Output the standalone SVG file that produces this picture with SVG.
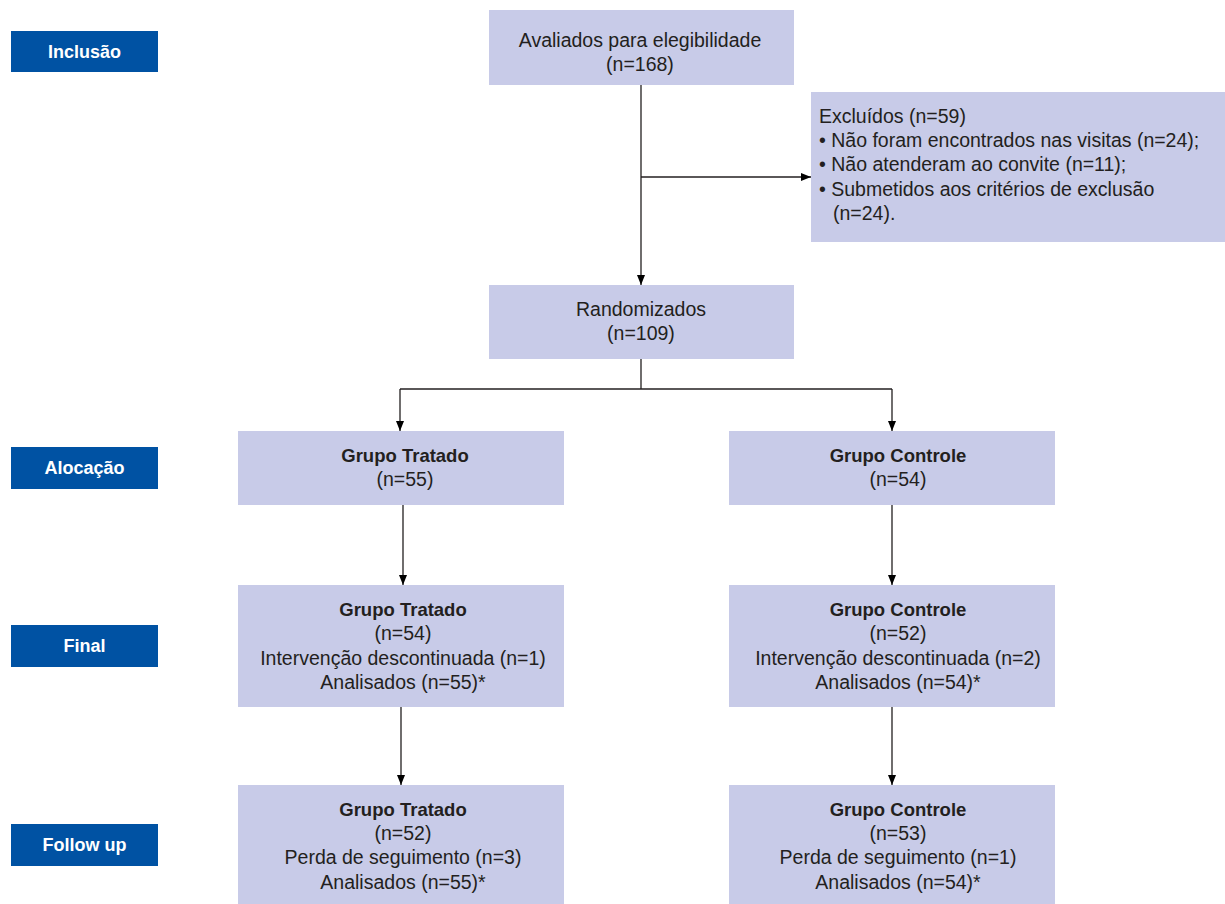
<svg xmlns="http://www.w3.org/2000/svg" width="1225" height="904" viewBox="0 0 1225 904">
<defs>
<style>
.box{fill:#c8cbe8;}
.lab{fill:#0052a3;}
.lt{font-family:"Liberation Sans",Arial,sans-serif;font-size:18px;font-weight:bold;fill:#ffffff;text-anchor:middle;}
.t{font-family:"Liberation Sans",Arial,sans-serif;font-size:19.5px;fill:#231f20;text-anchor:middle;}
.tl{font-family:"Liberation Sans",Arial,sans-serif;font-size:19.5px;fill:#231f20;}
.b{font-weight:bold;font-size:18.5px;}
.ln{stroke:#231f20;stroke-width:1.3;fill:none;}
</style>
<marker id="ah" markerWidth="10" markerHeight="8" refX="10" refY="4" orient="auto" markerUnits="userSpaceOnUse">
<path d="M0,0 L10,4 L0,8 Z" fill="#000"/>
</marker>
</defs>
<rect width="1225" height="904" fill="#ffffff"/>

<g id="label-inclusao"><rect class="lab" x="11" y="31" width="147" height="41"/><text class="lt" x="84.5" y="57.5">Inclusão</text></g>
<g id="label-alocacao"><rect class="lab" x="11" y="447" width="147" height="42"/><text class="lt" x="84.5" y="473.5">Alocação</text></g>
<g id="label-final"><rect class="lab" x="11" y="625" width="147" height="42"/><text class="lt" x="84.5" y="651.5">Final</text></g>
<g id="label-followup"><rect class="lab" x="11" y="824" width="147" height="42"/><text class="lt" x="84.5" y="850.5">Follow up</text></g>

<g id="node-avaliados"><rect class="box" x="489" y="10" width="305" height="75"/>
<text class="t" x="640" y="47">Avaliados para elegibilidade</text>
<text class="t" x="640" y="71">(n=168)</text></g>

<g id="node-excluidos"><rect class="box" x="811" y="92" width="414" height="150"/>
<text class="tl" x="819" y="123">Excluídos (n=59)</text>
<text class="tl" x="819" y="147">• Não foram encontrados nas visitas (n=24);</text>
<text class="tl" x="819" y="171">• Não atenderam ao convite (n=11);</text>
<text class="tl" x="819" y="196">• Submetidos aos critérios de exclusão</text>
<text class="tl" x="833" y="220">(n=24).</text></g>

<g id="node-randomizados"><rect class="box" x="489" y="285" width="305" height="74"/>
<text class="t" x="641" y="316">Randomizados</text>
<text class="t" x="641" y="340">(n=109)</text></g>

<g id="node-tratado-aloc"><rect class="box" x="238" y="431" width="326" height="74"/>
<text class="t b" x="405" y="462">Grupo Tratado</text>
<text class="t" x="405" y="486">(n=55)</text></g>

<g id="node-controle-aloc"><rect class="box" x="729" y="431" width="326" height="74"/>
<text class="t b" x="898" y="462">Grupo Controle</text>
<text class="t" x="898" y="486">(n=54)</text></g>

<g id="node-tratado-final"><rect class="box" x="238" y="585" width="326" height="122"/>
<text class="t b" x="403" y="616">Grupo Tratado</text>
<text class="t" x="403" y="640">(n=54)</text>
<text class="t" x="403" y="665">Intervenção descontinuada (n=1)</text>
<text class="t" x="403" y="689">Analisados (n=55)*</text></g>

<g id="node-controle-final"><rect class="box" x="729" y="585" width="326" height="122"/>
<text class="t b" x="898" y="616">Grupo Controle</text>
<text class="t" x="898" y="640">(n=52)</text>
<text class="t" x="898" y="665">Intervenção descontinuada (n=2)</text>
<text class="t" x="898" y="689">Analisados (n=54)*</text></g>

<g id="node-tratado-follow"><rect class="box" x="238" y="785" width="326" height="119"/>
<text class="t b" x="403" y="816">Grupo Tratado</text>
<text class="t" x="403" y="840">(n=52)</text>
<text class="t" x="403" y="864">Perda de seguimento (n=3)</text>
<text class="t" x="403" y="889">Analisados (n=55)*</text></g>

<g id="node-controle-follow"><rect class="box" x="729" y="785" width="326" height="119"/>
<text class="t b" x="898" y="816">Grupo Controle</text>
<text class="t" x="898" y="840">(n=53)</text>
<text class="t" x="898" y="864">Perda de seguimento (n=1)</text>
<text class="t" x="898" y="889">Analisados (n=54)*</text></g>

<g id="connectors">
<line class="ln" x1="641" y1="85" x2="641" y2="285" marker-end="url(#ah)"/>
<line class="ln" x1="641" y1="177" x2="811" y2="177" marker-end="url(#ah)"/>
<line class="ln" x1="641" y1="359" x2="641" y2="389"/>
<line class="ln" x1="400" y1="389" x2="892" y2="389"/>
<line class="ln" x1="400" y1="389" x2="400" y2="431" marker-end="url(#ah)"/>
<line class="ln" x1="892" y1="389" x2="892" y2="431" marker-end="url(#ah)"/>
<line class="ln" x1="403" y1="505" x2="403" y2="585" marker-end="url(#ah)"/>
<line class="ln" x1="892" y1="505" x2="892" y2="585" marker-end="url(#ah)"/>
<line class="ln" x1="401" y1="707" x2="401" y2="785" marker-end="url(#ah)"/>
<line class="ln" x1="892" y1="707" x2="892" y2="785" marker-end="url(#ah)"/>
</g>
</svg>
